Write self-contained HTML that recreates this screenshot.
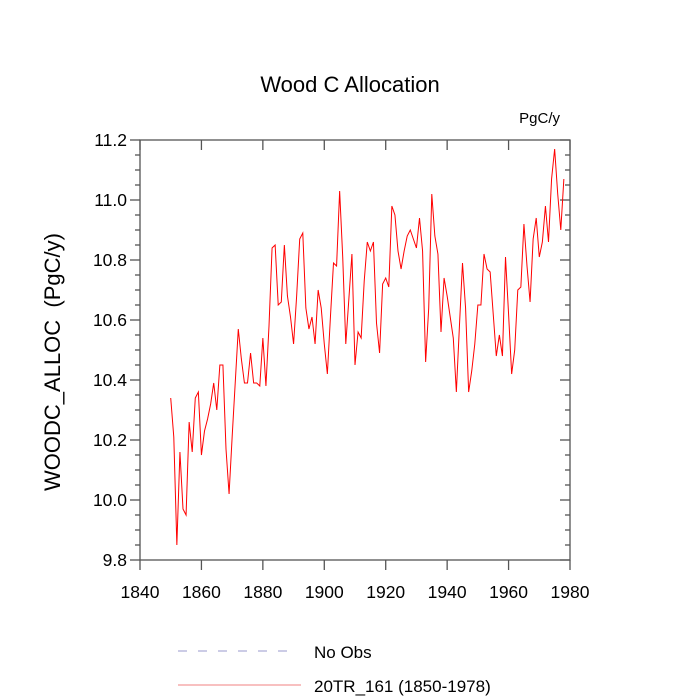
<!DOCTYPE html>
<html><head><meta charset="utf-8"><style>
body{margin:0;background:#fff}
svg{display:block;font-family:"Liberation Sans",sans-serif}
</style></head><body>
<svg id="c" width="700" height="700">
<text x="350" y="92" font-size="22" text-anchor="middle">Wood C Allocation</text>
<text x="560" y="123" font-size="15" text-anchor="end">PgC/y</text>
<text transform="translate(60,362) rotate(-90)" font-size="22" text-anchor="middle" xml:space="preserve">WOODC_ALLOC  (PgC/y)</text>
<g id="axes"></g>
<polyline id="series" fill="none" stroke="#ff0000" stroke-width="1"/>
<line x1="178" y1="651" x2="293" y2="651" stroke="#9999cc" stroke-width="1" stroke-dasharray="9,11"/>
<text x="314" y="658" font-size="17">No Obs</text>
<line x1="178" y1="685" x2="301" y2="685" stroke="#f08080" stroke-width="1"/>
<text x="314" y="692" font-size="17">20TR_161 (1850-1978)</text>
</svg>
<script>
const startYear = 1850;
const values = [10.34,10.21,9.85,10.16,9.97,9.95,10.26,10.16,10.34,10.36,10.15,10.23,10.27,10.32,10.39,10.30,10.45,10.45,10.17,10.02,10.21,10.39,10.57,10.47,10.39,10.39,10.49,10.39,10.39,10.38,10.54,10.38,10.58,10.84,10.85,10.65,10.66,10.85,10.68,10.61,10.52,10.68,10.87,10.89,10.64,10.57,10.61,10.52,10.70,10.64,10.52,10.42,10.61,10.79,10.78,11.03,10.81,10.52,10.67,10.82,10.45,10.56,10.54,10.73,10.86,10.83,10.86,10.59,10.49,10.72,10.74,10.71,10.98,10.95,10.83,10.77,10.83,10.88,10.90,10.87,10.84,10.94,10.83,10.46,10.64,11.02,10.88,10.82,10.56,10.74,10.68,10.61,10.54,10.36,10.58,10.79,10.64,10.36,10.43,10.52,10.65,10.65,10.82,10.77,10.76,10.62,10.48,10.55,10.48,10.81,10.62,10.42,10.50,10.70,10.71,10.92,10.78,10.66,10.87,10.94,10.81,10.86,10.98,10.86,11.07,11.17,11.02,10.90,11.07];
const xTicks = [1840,1860,1880,1900,1920,1940,1960,1980];
const yTicks = [9.8,10.0,10.2,10.4,10.6,10.8,11.0,11.2];
const L=140,R=570,T=140,B=560,X0=1840,X1=1980,Y0=9.8,Y1=11.2;
const sx=v=>L+(v-X0)/(X1-X0)*(R-L);
const sy=v=>B-(v-Y0)/(Y1-Y0)*(B-T);
const NS='http://www.w3.org/2000/svg';
const g=document.getElementById('axes');
function ln(x1,y1,x2,y2,name){const e=document.createElementNS(NS,'line');
e.setAttribute('x1',x1);e.setAttribute('y1',y1);e.setAttribute('x2',x2);e.setAttribute('y2',y2);
e.setAttribute('stroke','#555');e.setAttribute('stroke-width','1.3');


g.appendChild(e);}
function tx(x,y,s,anchor,name){const e=document.createElementNS(NS,'text');
e.setAttribute('x',x);e.setAttribute('y',y);e.setAttribute('font-size','17.5');e.setAttribute('text-anchor',anchor);e.textContent=s;


g.appendChild(e);}
const fr=document.createElementNS(NS,'rect');
fr.setAttribute('x',L);fr.setAttribute('y',T);fr.setAttribute('width',R-L);fr.setAttribute('height',B-T);
fr.setAttribute('fill','none');fr.setAttribute('stroke','#555');fr.setAttribute('stroke-width','1.3');


g.appendChild(fr);
xTicks.forEach(v=>{const x=sx(v);ln(x,B,x,B+10,'x-tick');ln(x,T,x,T+10,'x-tick-top');tx(x,598,String(v),'middle','x-tick-label');});
for(let v=Y0;v<=Y1+1e-9;v+=0.05){const y=sy(v);const maj=Math.abs(Math.round(v*5)-v*5)<1e-6;
const len=maj?10:5;ln(L-len,y,L,y,'y-tick');ln(R-len,y,R,y,'y-tick-right');}
yTicks.forEach(v=>tx(L-13,sy(v)+6,v.toFixed(1),'end','y-tick-label'));
document.getElementById('series').setAttribute('points',values.map((v,i)=>sx(startYear+i)+','+sy(v)).join(' '));
</script>
</body></html>
